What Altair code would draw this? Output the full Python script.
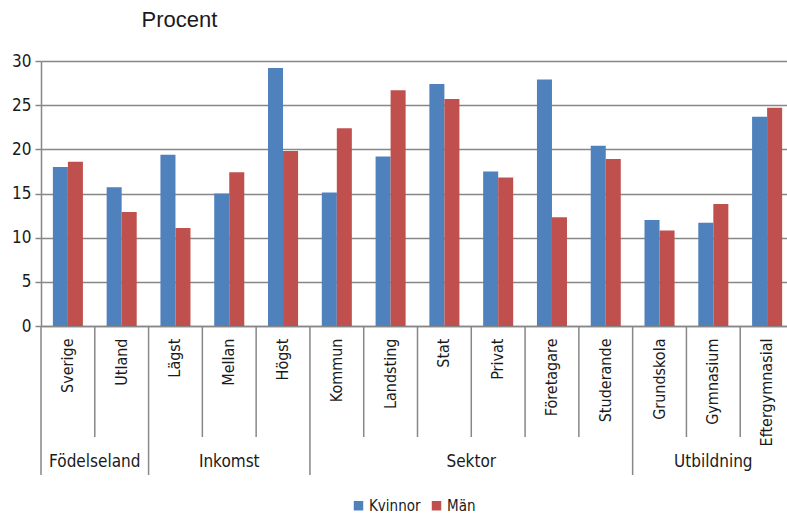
import altair as alt
import pandas as pd

# Categories on the x axis, grouped under a second label row
categories = ["Sverige", "Utland", "Lägst", "Mellan", "Högst", "Kommun", "Landsting",
              "Stat", "Privat", "Företagare", "Studerande", "Grundskola", "Gymnasium",
              "Eftergymnasial"]
group_names = ["Födelseland", "Inkomst", "Sektor", "Utbildning"]
group_sizes = [2, 3, 6, 3]

series = ["Kvinnor", "Män"]
kvinnor = [18.0, 15.7, 19.4, 15.0, 29.2, 15.1, 19.2, 27.4, 17.5, 27.9, 20.4, 12.0, 11.7, 23.7]
man = [18.6, 12.9, 11.1, 17.4, 19.8, 22.4, 26.7, 25.7, 16.8, 12.3, 18.9, 10.8, 13.8, 24.7]
colors = ["#4F81BD", "#C0504D"]
y_ticks = [0, 5, 10, 15, 20, 25, 30]

NARROW = "Liberation Sans Narrow, DejaVu Sans Condensed, sans-serif"
GRID = "#878787"
TEXT = "#1a1a1a"
W, H = 746, 265

bars_df = pd.DataFrame({
    "kategori": categories * 2,
    "kön": [series[0]] * len(categories) + [series[1]] * len(categories),
    "procent": kvinnor + man,
})

# Where each group starts, and the category sitting at its middle
starts, pos = [], 0
for size in group_sizes:
    starts.append(pos)
    pos += size
group_first = [categories[s] for s in starts]
inner_df = pd.DataFrame({"kategori": [c for c in categories if c not in group_first]})
outer_df = pd.DataFrame({"kategori": group_first})
even_df = pd.DataFrame({
    "kategori": [categories[s + n // 2] for s, n in zip(starts, group_sizes) if n % 2 == 0],
    "grupp": [g for g, n in zip(group_names, group_sizes) if n % 2 == 0],
})
odd_df = pd.DataFrame({
    "kategori": [categories[s + n // 2] for s, n in zip(starts, group_sizes) if n % 2 == 1],
    "grupp": [g for g, n in zip(group_names, group_sizes) if n % 2 == 1],
})

x_scale = alt.Scale(domain=categories, range=[0, 753], paddingInner=0, paddingOuter=0)

bars = alt.Chart(bars_df).mark_bar().encode(
    x=alt.X("kategori:N", sort=categories, scale=x_scale,
            axis=alt.Axis(title=None, labelAngle=270, labelAlign="right",
                          labelBaseline="middle", ticks=False, tickSize=0,
                          labelPadding=12, domainColor=GRID, domainWidth=1.5,
                          labelFont=NARROW, labelFontSize=16, labelColor=TEXT)),
    xOffset=alt.XOffset("kön:N", sort=series,
                        scale=alt.Scale(domain=series, paddingOuter=0.79, paddingInner=0)),
    y=alt.Y("procent:Q", scale=alt.Scale(domain=[0, 30]),
            axis=alt.Axis(title=None, values=y_ticks, grid=True, gridColor=GRID,
                          gridWidth=1.5, domainColor=GRID, domainWidth=1.5,
                          tickColor=GRID, tickWidth=1.5, tickSize=6, labelPadding=4,
                          labelFont=NARROW, labelFontSize=17, labelColor=TEXT)),
    color=alt.Color("kön:N", sort=series,
                    scale=alt.Scale(domain=series, range=colors),
                    legend=alt.Legend(title=None, orient="none", legendX=310, legendY=437,
                                      direction="horizontal", symbolType="square",
                                      symbolSize=90, symbolStrokeWidth=0,
                                      labelFont=NARROW, labelFontSize=15,
                                      labelColor=TEXT, columnPadding=8,
                                      labelOffset=3)),
)

inner_sep = alt.Chart(inner_df).mark_rule(color=GRID, strokeWidth=1.5).encode(
    x=alt.X("kategori:N", bandPosition=0),
    y=alt.value(H),
    y2=alt.value(H + 111),
)
outer_sep = alt.Chart(outer_df).mark_rule(color=GRID, strokeWidth=1.5).encode(
    x=alt.X("kategori:N", bandPosition=0),
    y=alt.value(H),
    y2=alt.value(H + 149),
)
label_style = dict(font=NARROW, fontSize=17, color=TEXT, baseline="middle", align="center")
even_labels = alt.Chart(even_df).mark_text(**label_style).encode(
    x=alt.X("kategori:N", bandPosition=0),
    y=alt.value(H + 136),
    text="grupp:N",
)
odd_labels = alt.Chart(odd_df).mark_text(**label_style).encode(
    x=alt.X("kategori:N", bandPosition=0.5),
    y=alt.value(H + 136),
    text="grupp:N",
)

chart = alt.layer(bars, inner_sep, outer_sep, even_labels, odd_labels).properties(
    width=W,
    height=H,
    autosize=alt.AutoSizeParams(type="none"),
    padding={"left": 41, "top": 61, "right": 0, "bottom": 189},
    title=alt.TitleParams("Procent", anchor="start", dx=130, offset=20,
                          font="Liberation Sans, Arial, sans-serif", fontSize=22,
                          fontWeight="normal", color=TEXT),
).configure_view(stroke=None)

chart.save("out.html", embed_options={"renderer": "svg", "actions": False})
